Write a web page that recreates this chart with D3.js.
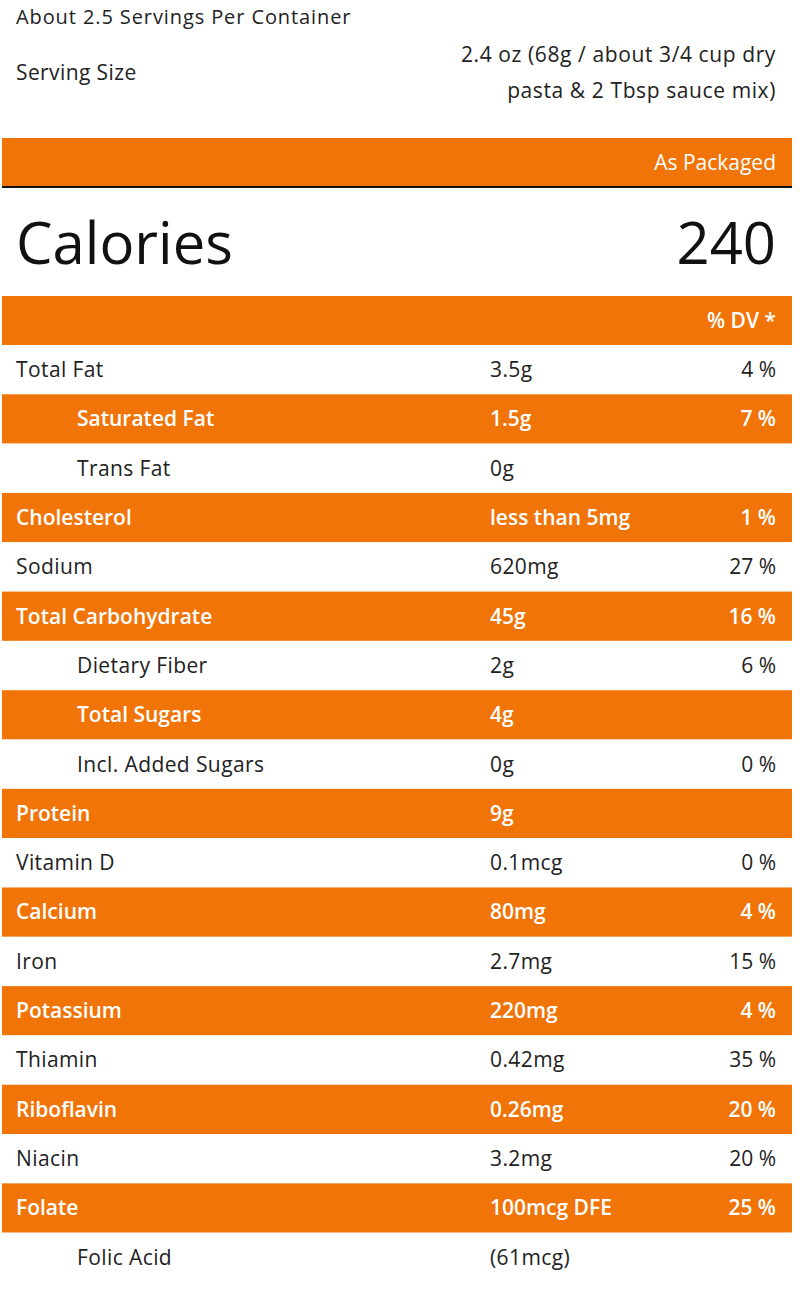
<!DOCTYPE html>
<html><head><meta charset="utf-8">
<script src="https://cdn.jsdelivr.net/npm/d3@7"></script>
<style>body{margin:0;background:#fff;font-family:"Open Sans",sans-serif;}</style>
</head><body><svg id="c" width="800" height="1299"></svg>
<script>
const nutrients = ["Total Fat","Saturated Fat","Trans Fat","Cholesterol","Sodium","Total Carbohydrate","Dietary Fiber","Total Sugars","Incl. Added Sugars","Protein","Vitamin D","Calcium","Iron","Potassium","Thiamin","Riboflavin","Niacin","Folate","Folic Acid"];
const amounts = ["3.5g","1.5g","0g","less than 5mg","620mg","45g","2g","4g","0g","9g","0.1mcg","80mg","2.7mg","220mg","0.42mg","0.26mg","3.2mg","100mcg DFE","(61mcg)"];
const dvs = ["4 %","7 %","","1 %","27 %","16 %","6 %","","0 %","","0 %","4 %","15 %","4 %","35 %","20 %","20 %","25 %",""];
const indented = [false,true,true,false,false,false,true,true,true,false,false,false,false,false,false,false,false,false,true];
const calories = 240;
const orange = "#f07408";
const svg = d3.select("#c");
const y = d3.scaleBand().domain(d3.range(nutrients.length)).range([345,1282]).padding(0);
svg.append("text").attr("x",16).attr("y",24).attr("font-size",20).attr("letter-spacing",0.9).attr("fill","#222").text("About 2.5 Servings Per Container");
svg.append("text").attr("x",16).attr("y",80).attr("font-size",21).attr("font-weight",500).attr("letter-spacing",0.4).attr("fill","#222").text("Serving Size");
svg.append("text").attr("x",776).attr("y",62).attr("text-anchor","end").attr("font-size",21).attr("font-weight",500).attr("letter-spacing",0.6).attr("fill","#222").text("2.4 oz (68g / about 3/4 cup dry");
svg.append("text").attr("x",776).attr("y",98).attr("text-anchor","end").attr("font-size",21).attr("font-weight",500).attr("letter-spacing",0.6).attr("fill","#222").text("pasta & 2 Tbsp sauce mix)");
svg.append("rect").attr("x",2).attr("y",138).attr("width",790).attr("height",49).attr("fill",orange);
svg.append("rect").attr("x",2).attr("y",186).attr("width",790).attr("height",2).attr("fill","#111");
svg.append("text").attr("x",776).attr("y",170).attr("text-anchor","end").attr("font-size",21).attr("font-weight",500).attr("fill","#fff").text("As Packaged");
svg.append("text").attr("x",16).attr("y",264).attr("font-size",58).attr("font-weight",500).attr("fill","#111").text("Calories");
svg.append("text").attr("x",776).attr("y",264).attr("text-anchor","end").attr("font-size",58).attr("font-weight",500).attr("fill","#111").text(calories);
svg.append("rect").attr("x",2).attr("y",296).attr("width",790).attr("height",49).attr("fill",orange);
svg.append("text").attr("x",776).attr("y",328).attr("text-anchor","end").attr("font-size",21).attr("font-weight",600).attr("fill","#fff").text("% DV *");
const rows = svg.selectAll("g.row").data(nutrients).join("g").attr("transform",(d,i)=>`translate(0,${y(i)})`);
rows.append("rect").attr("x",2).attr("width",790).attr("height",y.bandwidth()).attr("fill",(d,i)=>i%2?orange:"#fff");
const col=(d,i)=>i%2?"#fff":"#222";
const fw=(d,i)=>i%2?600:400;
const ls=(d,i)=>i%2?0:0.4;
rows.append("text").attr("x",(d,i)=>indented[i]?77:16).attr("y",32).attr("font-size",21).attr("font-weight",fw).attr("fill",col).attr("letter-spacing",ls).text(d=>d);
rows.append("text").attr("x",490).attr("y",32).attr("font-size",21).attr("font-weight",fw).attr("fill",col).attr("letter-spacing",ls).text((d,i)=>amounts[i]);
rows.append("text").attr("x",776).attr("y",32).attr("text-anchor","end").attr("font-size",21).attr("font-weight",fw).attr("fill",col).text((d,i)=>dvs[i]);
</script></body></html>
